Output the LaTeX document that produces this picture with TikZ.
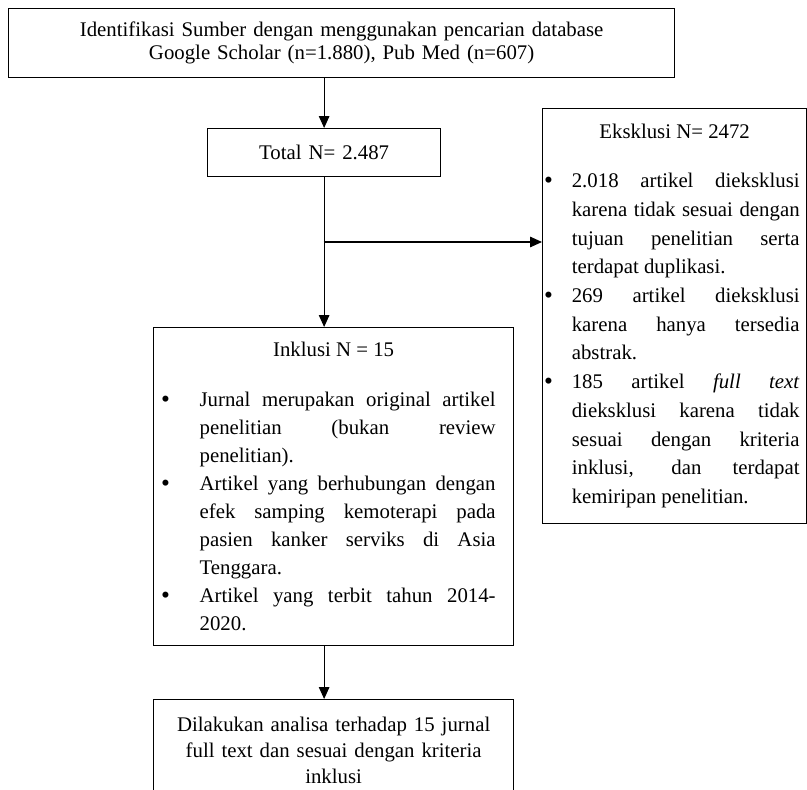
\documentclass[tikz,border=0pt]{standalone}
\usepackage{fontspec}
\setmainfont{Liberation Serif}
\usepackage{tikz}
\usetikzlibrary{arrows.meta,positioning}
\newlength{\upx}
\setlength{\upx}{0.025cm}
\newlength{\butirjarak}
\tolerance=10000
\hyphenpenalty=10000
% one bullet paragraph
\newcommand{\butir}[1]{\par\noindent\hangindent=\butirjarak\hangafter=1
  \makebox[\butirjarak][l]{\raisebox{-0.4pt}{\fontsize{18}{18}\selectfont\textbullet}}#1\par}
\tikzset{
    %Define standard arrow tip
    >={Triangle[length=8.5pt,width=7.5pt]},
    %Define style for boxes
    kotak/.style={
           rectangle,
           draw=black, line width=0.9pt,
           inner sep=0pt,
           anchor=north west,
           font=\fontsize{14.8}{20}\selectfont},
    kotakdaftar/.style={
           kotak,
           align=justify},
    % Define arrow style
    panah/.style={
           ->,
           line width=0.75pt}
}
\begin{document}
\begin{tikzpicture}[x=0.025cm,y=-0.025cm]
\useasboundingbox (0,0) rectangle (807,789);
 %nodes
\node[kotak, text width=666\upx, minimum height=69\upx, align=center,
      font=\fontsize{14.8}{16.4}\selectfont] (1) at (8,8)
      {Identifikasi Sumber dengan menggunakan pencarian database\\
       Google Scholar (n=1.880), Pub Med (n=607)};
\node[kotak, text width=233\upx, minimum height=48\upx, align=center] (2) at (207,128) {Total N= 2.487};
\node[kotakdaftar, text width=264\upx, inner ysep=15.8\upx,
      font=\fontsize{14.8}{20.4}\selectfont] (3) at (542,108) {%
  {\centering Eksklusi N= 2472\par}
  \vspace{20.3\upx}
  \setlength{\butirjarak}{27.6\upx}\leftskip=1.6\upx \rightskip=7\upx
  \butir{2.018 artikel dieksklusi\linebreak karena tidak sesuai dengan\linebreak tujuan penelitian serta\linebreak terdapat duplikasi.}
  \butir{269 artikel dieksklusi\linebreak karena hanya tersedia\linebreak abstrak.}
  \butir{185 artikel \textit{full text}\linebreak dieksklusi karena tidak\linebreak sesuai dengan kriteria\linebreak inklusi, dan terdapat\linebreak kemiripan penelitian.}};
\node[kotakdaftar, text width=360\upx, inner ysep=14.8\upx,
      font=\fontsize{14.8}{19.9}\selectfont] (4) at (153,327) {%
  {\centering Inklusi N = 15\par}
  \vspace{22\upx}
  \setlength{\butirjarak}{38.5\upx}\leftskip=7.5\upx \rightskip=18\upx
  \butir{Jurnal merupakan original artikel\linebreak penelitian (bukan review\linebreak penelitian).}
  \butir{Artikel yang berhubungan dengan\linebreak efek samping kemoterapi pada\linebreak pasien kanker serviks di Asia\linebreak Tenggara.}
  \butir{Artikel yang terbit tahun 2014-\linebreak 2020.}};
\node[kotak, text width=360\upx, inner ysep=17\upx, align=center,
      font=\fontsize{14.8}{18.5}\selectfont] (5) at (153,699)
      {Dilakukan analisa terhadap 15 jurnal\\ full text dan sesuai dengan kriteria\\ inklusi};
\coordinate (c) at (323.5,242);

 \path
 	(2.north |- 1.south) edge[panah] (2.north)
 	(2.south) edge[panah] (2.south |- 4.north)
 	(c) edge[panah] (c -| 3.west)
 	(2.south |- 4.south) edge[panah] (2.south |- 5.north);

\end{tikzpicture}
\end{document}
